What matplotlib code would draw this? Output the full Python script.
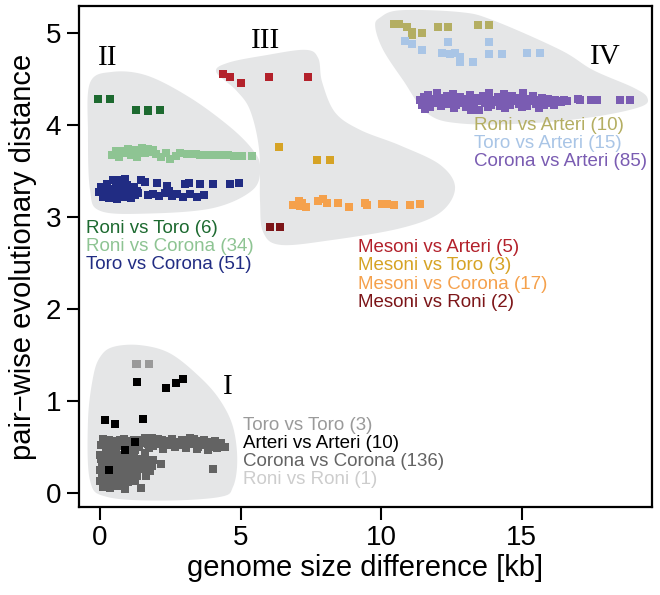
import numpy as np
import matplotlib
matplotlib.use("Agg")
import matplotlib.pyplot as plt
from matplotlib.patches import Polygon

plt.rcParams['font.family'] = ['Liberation Sans', 'DejaVu Sans']

# ---- data: genome size difference [kb] (x) vs pair-wise evolutionary distance (y)
# cluster I
roni_roni_x = [0.5]
roni_roni_y = [0.30]
toro_toro_x = [1.28, 1.75, 1.31]
toro_toro_y = [1.40, 1.40, 1.40]
corona_corona_x = [
    0.05, 0.15, 0.30, 0.40, 0.50, 0.60, 0.70, 0.80, 0.90, 1.00, 1.10, 1.20, 1.30, 1.40, 1.50,
    1.60, 1.70, 1.80, 1.90, 2.00, 2.10, 2.20, 2.30, 2.40, 2.50, 2.60, 2.70, 2.80, 2.90, 3.00,
    3.10, 3.20, 3.30, 3.40, 3.50, 3.60, 3.70, 3.80, 3.90, 4.00, 4.10, 4.20, 4.30, 4.45, 0.20,
    0.55, 0.95, 1.25, 1.75, 2.25, 2.65, 3.05, 3.45, 3.85, 4.15, 0.10, 0.45, 0.85, 1.15, 1.45,
    1.85, 2.15, 2.55, 2.95, 3.35, 3.75, 0.35, 1.05, 1.95, 2.75, 0.25, 0.65, 1.35, 1.65, 2.05,
    2.45, 2.85, 3.25, 3.65, 4.05,
    0.00, 0.27, 0.48, 0.77, 1.02, 1.22, 1.60,
    0.05, 0.31, 0.56, 0.82, 1.04, 1.33, 1.61, 1.90,
    0.08, 0.36, 0.62, 0.84, 1.12, 1.36, 1.58, 1.86,
    -0.02, 0.24, 0.52, 0.73, 0.98, 1.27, 1.50, 1.77,
    0.06, 0.29, 0.57, 0.79, 1.06, 1.31, 1.62,
    0.01, 0.26, 0.49, 0.74, 1.01, 1.24,
    0.12, 0.36, 0.60, 0.89, 1.46,
    2.17, 4.01, 0.15, 0.45, 0.70, 0.95, 1.20,
]
corona_corona_y = [
    0.52, 0.55, 0.58, 0.50, 0.56, 0.53, 0.58, 0.51, 0.55, 0.57, 0.52, 0.58, 0.54, 0.50, 0.56,
    0.60, 0.53, 0.56, 0.51, 0.57, 0.54, 0.58, 0.52, 0.55, 0.57, 0.53, 0.56, 0.52, 0.58, 0.54,
    0.56, 0.60, 0.53, 0.57, 0.50, 0.55, 0.58, 0.52, 0.56, 0.50, 0.57, 0.53, 0.55, 0.50, 0.46,
    0.49, 0.48, 0.47, 0.49, 0.48, 0.50, 0.49, 0.48, 0.47, 0.49, 0.59, 0.57, 0.59, 0.56, 0.58,
    0.60, 0.56, 0.59, 0.55, 0.59, 0.55, 0.52, 0.52, 0.53, 0.54, 0.54, 0.55, 0.55, 0.55, 0.59,
    0.52, 0.56, 0.55, 0.52, 0.54,
    0.42, 0.43, 0.41, 0.42, 0.43, 0.41, 0.44,
    0.37, 0.36, 0.38, 0.37, 0.36, 0.37, 0.38, 0.36,
    0.31, 0.30, 0.32, 0.31, 0.30, 0.31, 0.32, 0.30,
    0.25, 0.24, 0.26, 0.25, 0.24, 0.25, 0.26, 0.24,
    0.19, 0.18, 0.20, 0.19, 0.18, 0.19, 0.19,
    0.13, 0.12, 0.14, 0.13, 0.12, 0.13,
    0.07, 0.06, 0.08, 0.05, 0.06,
    0.32, 0.26, 0.28, 0.22, 0.35, 0.16, 0.40,
]
arteri_arteri_x = [1.33, 2.35, 2.70, 2.94, 0.18, 0.53, 1.54, 1.25, 0.30, 0.89]
arteri_arteri_y = [1.21, 1.14, 1.20, 1.24, 0.80, 0.75, 0.81, 0.56, 0.25, 0.47]

# cluster II
roni_toro_x = [-0.06, 0.36, 1.28, 1.72, 2.13, 1.70]
roni_toro_y = [4.29, 4.29, 4.17, 4.17, 4.17, 4.16]
roni_corona_x = [0.42, 0.55, 0.68, 0.80, 0.90, 1.00, 1.10, 1.20, 1.30, 1.40, 1.50, 1.60,
                 1.70, 1.80, 1.90, 2.00, 2.15, 2.35, 2.50, 2.70, 2.85, 3.10, 3.25, 3.40,
                 3.55, 3.70, 3.85, 4.00, 4.15, 4.35, 4.55, 4.75, 5.05, 5.40]
roni_corona_y = [3.68, 3.72, 3.66, 3.72, 3.70, 3.74, 3.68, 3.73, 3.66, 3.72, 3.75, 3.70,
                 3.74, 3.71, 3.73, 3.69, 3.66, 3.70, 3.63, 3.67, 3.70, 3.69, 3.69, 3.69,
                 3.68, 3.68, 3.68, 3.68, 3.68, 3.68, 3.68, 3.67, 3.67, 3.67]
toro_corona_x = [-0.05, 0.05, 0.10, 0.15, 0.20, 0.25, 0.30, 0.35, 0.40, 0.45, 0.50, 0.55,
                 0.60, 0.65, 0.70, 0.75, 0.80, 0.85, 0.90, 0.95, 1.00, 1.05, 1.10, 1.15,
                 1.20, 1.25, 1.30, 0.62, 0.90, 1.35,
                 1.45, 1.60, 2.02, 2.37, 2.45, 3.02, 3.15, 3.56, 4.03, 4.63, 4.96,
                 1.70, 1.90, 2.10, 2.30, 2.55, 2.75, 2.95, 3.20, 3.45, 3.68]
toro_corona_y = [3.27, 3.33, 3.22, 3.30, 3.26, 3.36, 3.21, 3.31, 3.27, 3.40, 3.24, 3.33,
                 3.20, 3.29, 3.36, 3.25, 3.31, 3.22, 3.28, 3.35, 3.24, 3.30, 3.21, 3.27,
                 3.33, 3.24, 3.29, 3.41, 3.42, 3.26,
                 3.41, 3.38, 3.37, 3.34, 3.28, 3.36, 3.37, 3.36, 3.36, 3.36, 3.37,
                 3.24, 3.25, 3.23, 3.26, 3.23, 3.25, 3.22, 3.25, 3.22, 3.24]

# cluster III
mesoni_arteri_x = [4.39, 4.63, 5.01, 6.01, 7.41]
mesoni_arteri_y = [4.56, 4.52, 4.46, 4.53, 4.53]
mesoni_toro_x = [6.38, 7.73, 8.19]
mesoni_toro_y = [3.76, 3.62, 3.62]
mesoni_corona_x = [6.88, 7.06, 7.18, 7.33, 7.77, 7.92, 8.07, 8.48, 8.84, 9.43, 9.51,
                   10.02, 10.20, 10.44, 11.03, 11.39, 7.10]
mesoni_corona_y = [3.13, 3.18, 3.15, 3.11, 3.18, 3.20, 3.16, 3.16, 3.11, 3.16, 3.13,
                   3.14, 3.14, 3.13, 3.13, 3.14, 3.12]
mesoni_roni_x = [6.03, 6.41]
mesoni_roni_y = [2.89, 2.89]

# cluster IV
roni_arteri_x = [10.44, 10.65, 10.91, 11.09, 11.09, 11.45, 12.04, 12.39, 13.46, 13.82]
roni_arteri_y = [5.10, 5.10, 5.07, 5.01, 4.98, 5.00, 5.07, 5.07, 5.09, 5.09]
toro_arteri_x = [10.85, 11.09, 11.45, 12.16, 12.39, 12.46, 12.63, 12.81, 12.79, 13.28,
                 13.82, 13.82, 14.29, 15.18, 15.66]
toro_arteri_y = [4.92, 4.88, 4.82, 4.79, 4.91, 4.78, 4.79, 4.74, 4.69, 4.69,
                 4.91, 4.78, 4.78, 4.79, 4.79]
corona_arteri_x = [
    11.39, 11.45, 11.52, 11.60, 11.68, 11.75, 11.82, 11.90, 11.97, 12.05, 12.12, 12.20,
    12.27, 12.35, 12.42, 12.50, 12.57, 12.65, 12.72, 12.80, 12.87, 12.95, 13.02, 13.10,
    13.17, 13.25, 13.32, 13.40, 13.47, 13.55, 13.62, 13.70, 13.77, 13.85, 13.92, 14.00,
    14.07, 14.15, 14.22, 14.30, 14.37, 14.45, 14.52, 14.60, 14.67, 14.75, 14.82, 14.90,
    14.97, 15.05, 15.12, 15.20, 15.27, 15.35, 15.42, 15.50, 15.57, 15.65, 15.72, 15.80,
    15.87, 15.95, 16.02, 16.10, 16.20, 16.30, 16.40, 16.50, 16.60,
    17.00, 17.08, 17.45, 17.55, 17.68, 18.50, 18.86,
    11.55, 12.00, 12.60, 13.20, 13.80, 14.40, 15.00, 15.60, 16.15,
]
corona_arteri_y = [
    4.27, 4.22, 4.31, 4.25, 4.33, 4.20, 4.29, 4.24, 4.35, 4.27, 4.21, 4.30,
    4.25, 4.32, 4.23, 4.28, 4.34, 4.22, 4.27, 4.31, 4.24, 4.29, 4.20, 4.26,
    4.33, 4.28, 4.22, 4.30, 4.17, 4.26, 4.32, 4.24, 4.29, 4.35, 4.22, 4.28,
    4.25, 4.31, 4.21, 4.27, 4.34, 4.24, 4.29, 4.22, 4.32, 4.26, 4.30, 4.23,
    4.28, 4.35, 4.25, 4.21, 4.29, 4.26, 4.32, 4.23, 4.28, 4.25, 4.30, 4.22,
    4.27, 4.29, 4.24, 4.27, 4.28, 4.26, 4.25, 4.28, 4.26,
    4.29, 4.27, 4.28, 4.27, 4.28, 4.28, 4.28,
    4.18, 4.32, 4.19, 4.17, 4.20, 4.19, 4.20, 4.19, 4.22,
]

# series: (label, x, y, colour)
cluster_I = [
    ("Toro vs Toro (3)", toro_toro_x, toro_toro_y, "#9a9a9a"),
    ("Arteri vs Arteri (10)", arteri_arteri_x, arteri_arteri_y, "#000000"),
    ("Corona vs Corona (136)", corona_corona_x, corona_corona_y, "#636363"),
    ("Roni vs Roni (1)", roni_roni_x, roni_roni_y, "#cdcdcd"),
]
cluster_II = [
    ("Roni vs Toro (6)", roni_toro_x, roni_toro_y, "#1d6a30"),
    ("Roni vs Corona (34)", roni_corona_x, roni_corona_y, "#8ec493"),
    ("Toro vs Corona (51)", toro_corona_x, toro_corona_y, "#212c83"),
]
cluster_III = [
    ("Mesoni vs Arteri (5)", mesoni_arteri_x, mesoni_arteri_y, "#b3212b"),
    ("Mesoni vs Toro (3)", mesoni_toro_x, mesoni_toro_y, "#d6a325"),
    ("Mesoni vs Corona (17)", mesoni_corona_x, mesoni_corona_y, "#f5a14c"),
    ("Mesoni vs Roni (2)", mesoni_roni_x, mesoni_roni_y, "#7c1518"),
]
cluster_IV = [
    ("Roni vs Arteri (10)", roni_arteri_x, roni_arteri_y, "#b4ae62"),
    ("Toro vs Arteri (15)", toro_arteri_x, toro_arteri_y, "#a9c5e6"),
    ("Corona vs Arteri (85)", corona_arteri_x, corona_arteri_y, "#7a5cb2"),
]

# background blob outlines (data coords)
blob_I = [(0.46, 1.59), (1.42, 1.61), (2.49, 1.52), (3.56, 1.26), (4.27, 1.01), (4.73, 0.72),
          (4.88, 0.36), (4.73, 0.07), (4.27, -0.04), (2.24, -0.08), (0.25, -0.04),
          (-0.36, 0.14), (-0.43, 0.79), (-0.25, 1.26), (0.0, 1.48)]
blob_II = [(-0.36, 4.46), (0.43, 4.58), (1.67, 4.54), (3.20, 4.30), (4.63, 3.98), (5.44, 3.73),
           (5.69, 3.55), (5.44, 3.30), (4.02, 3.10), (1.67, 3.04), (0.0, 3.07), (-0.36, 3.30),
           (-0.43, 3.91)]
blob_III = [(4.13, 4.58), (4.84, 4.38), (5.34, 4.16), (5.66, 3.73), (5.69, 3.18), (5.80, 2.84),
            (6.41, 2.70), (8.19, 2.75), (10.68, 2.88), (12.10, 3.05), (12.63, 3.32),
            (12.10, 3.57), (10.68, 3.78), (9.25, 3.95), (8.36, 4.14), (7.90, 4.47),
            (7.76, 4.73), (7.30, 4.82), (5.87, 4.76), (4.56, 4.68)]
blob_IV = [(9.96, 5.17), (10.68, 5.25), (12.81, 5.23), (13.99, 5.14), (16.37, 4.82),
           (17.54, 4.60), (18.97, 4.41), (19.47, 4.30), (19.22, 4.20), (17.54, 4.09),
           (15.20, 4.02), (12.81, 4.02), (11.64, 4.13), (10.78, 4.49), (10.07, 4.82),
           (9.79, 5.07)]


def smooth_closed(pts, n=20):
    # closed Catmull-Rom curve through the outline points
    p = np.asarray(pts, dtype=float)
    out = []
    m = len(p)
    t = np.linspace(0, 1, n, endpoint=False)[:, None]
    for i in range(m):
        p0, p1, p2, p3 = p[i - 1], p[i], p[(i + 1) % m], p[(i + 2) % m]
        seg = 0.5 * ((2 * p1) + (-p0 + p2) * t + (2 * p0 - 5 * p1 + 4 * p2 - p3) * t ** 2
                     + (-p0 + 3 * p1 - 3 * p2 + p3) * t ** 3)
        out.append(seg)
    return np.vstack(out)


fig = plt.figure(figsize=(6.6, 5.95), dpi=100)
ax = fig.add_axes([0.1197, 0.148, 0.8683, 0.842])

for blob in (blob_I, blob_II, blob_III, blob_IV):
    ax.add_patch(Polygon(smooth_closed(blob), closed=True, facecolor="#e5e6e7",
                         edgecolor="none", zorder=1))

# draw order: hidden / light series first
draw_order = [cluster_I[3], cluster_I[0], cluster_I[2], cluster_I[1]] + cluster_II + cluster_III + cluster_IV
for label, xs, ys, col in draw_order:
    ax.scatter(xs, ys, s=30, marker="s", color=col, linewidths=0, zorder=3)

# group labels
label_pos = {
    "I": (cluster_I, (5.09, 0.74)),
    "II": (cluster_II, (-0.50, 2.88)),
    "III": (cluster_III, (9.18, 2.67)),
    "IV": (cluster_IV, (13.31, 4.00)),
}
step = 0.198
for name, (series, (tx, ty)) in label_pos.items():
    for k, (label, xs, ys, col) in enumerate(series):
        ax.text(tx, ty - k * step, label, color=col, fontsize=13.5, ha="left", va="center", zorder=4)

roman = [("I", 4.56, 1.16), ("II", 0.28, 4.73), ("III", 5.87, 4.92), ("IV", 17.97, 4.74)]
for txt, rx, ry in roman:
    ax.text(rx, ry, txt, fontsize=21, family="Liberation Serif", ha="center", va="center", zorder=4)

ax.set_xlim(-0.75, 19.64)
ax.set_ylim(-0.149, 5.297)
ax.set_xticks([0, 5, 10, 15])
ax.set_yticks([0, 1, 2, 3, 4, 5])
ax.tick_params(direction="out", length=9, width=1.5, labelsize=20, pad=4)
for sp in ax.spines.values():
    sp.set_linewidth(1.6)

ax.set_xlabel("genome size difference [kb]", fontsize=21, labelpad=2)
ax.set_ylabel("pair\u2212wise evolutionary distance", fontsize=21, labelpad=6)

fig.savefig("out.png", dpi=100)
